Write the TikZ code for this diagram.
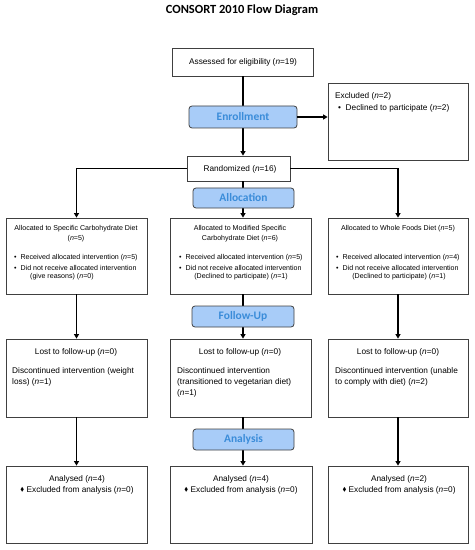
\documentclass[tikz,border=0pt]{standalone}
\usepackage{amssymb}
\usepackage{fontspec}
\setmainfont{Liberation Sans}
\newfontfamily\calib{Carlito}
\usetikzlibrary{arrows.meta,calc}
\definecolor{stagefill}{HTML}{A8CCF8}
\definecolor{stagetext}{HTML}{3A8CD9}
\definecolor{boxline}{HTML}{404040}
\newcommand{\dmd}{\raisebox{0.3bp}{\scalebox{0.7}{$\blacklozenge$}}}
\begin{document}
\begin{tikzpicture}[x=1bp,y=-1bp,
  box/.style={draw=boxline,line width=0.8bp,rectangle,inner sep=0pt,fill=white},
  stage/.style={draw=boxline,line width=0.8bp,rounded corners=3bp,fill=stagefill,inner sep=0pt,
     font=\calib\bfseries\fontsize{11.5}{13}\selectfont,text=stagetext},
  txt/.style={inner sep=0pt,font=\fontsize{8.3}{10}\selectfont},
  stxt/.style={inner sep=0pt,font=\fontsize{7.1}{8.5}\selectfont},
  conn/.style={line width=1.6bp,-{Triangle[width=5bp,length=4.5bp]}},
  plain/.style={line width=1.6bp}]
\useasboundingbox (0,0) rectangle (475,550);
\node[inner sep=0pt,font=\calib\bfseries\fontsize{12.5}{14}\selectfont] (title) at (242,10) {CONSORT 2010 Flow Diagram};
% boxes
\node[box,minimum width=141bp,minimum height=28bp] (assess) at (242.5,62) {};
\node[box,minimum width=140bp,minimum height=77bp] (excl) at (398,121.5) {};
\node[box,minimum width=103bp,minimum height=25bp] (rand) at (238.5,168.5) {};
\node[box,minimum width=141bp,minimum height=76bp] (allocL) at (76.5,256) {};
\node[box,minimum width=141bp,minimum height=76bp] (allocC) at (240.5,256) {};
\node[box,minimum width=140bp,minimum height=76bp] (allocR) at (398,256) {};
\node[box,minimum width=141bp,minimum height=78bp] (lostL) at (76.5,378) {};
\node[box,minimum width=141bp,minimum height=78bp] (lostC) at (240.5,378) {};
\node[box,minimum width=140bp,minimum height=78bp] (lostR) at (398,378) {};
\node[box,minimum width=141bp,minimum height=77bp] (anL) at (76.5,504.5) {};
\node[box,minimum width=142bp,minimum height=77bp] (anC) at (241,504.5) {};
\node[box,minimum width=140bp,minimum height=77bp] (anR) at (398,504.5) {};
% connectors
\coordinate (spine) at (243,0);
\draw[conn] (assess.south -| spine) -- (rand.north -| spine);
\draw[conn] (rand.west) -| (allocL.north);
\draw[conn] (rand.east) -| (allocR.north);
\draw[conn] (rand.south -| spine) -- (allocC.north -| spine);
\draw[conn] (allocL.south) -- (lostL.north);
\draw[conn] (allocC.south -| spine) -- (lostC.north -| spine);
\draw[conn] (allocR.south) -- (lostR.north);
\draw[conn] (lostL.south) -- (anL.north);
\draw[conn] (lostC.south -| spine) -- (anC.north -| spine);
\draw[conn] (lostR.south) -- (anR.north);
% stage boxes
\node[stage,minimum width=108bp,minimum height=22bp] (enrol) at (243,117) {Enrollment};
\draw[conn] (enrol.east) -- (enrol.east -| excl.west);
\node[stage,minimum width=101bp,minimum height=20bp] (alloc) at (243.5,198) {Allocation};
\node[stage,minimum width=102bp,minimum height=21bp] (follow) at (243,316.5) {Follow-Up};
\node[stage,minimum width=101bp,minimum height=21bp] (analysis) at (243.5,439.5) {Analysis};
% texts
\node[txt] (tAssess) at (243,62) {Assessed for eligibility (\textit{n}=19)};
\node[txt,anchor=west] (tExcl1) at (335,96) {Excluded (\textit{n}=2)};
\node[txt,anchor=west] (tExcl2) at (338,108) {\textbullet\ \ Declined to participate (\textit{n}=2)};
\node[txt] (tRand) at (240,169) {Randomized (\textit{n}=16)};
% allocated
\node[stxt] (aL1) at (76,229) {Allocated to Specific Carbohydrate Diet};
\node[stxt] (aL2) at (76,239) {(\textit{n}=5)};
\node[stxt,anchor=west] (aL3) at (14,258) {\textbullet\ \ Received allocated intervention (\textit{n}=5)};
\node[stxt,anchor=west] (aL4) at (14,268) {\textbullet\ \ Did not receive allocated intervention};
\node[stxt,anchor=west] (aL5) at (30,277) {(give reasons) (\textit{n}=0)};
\node[stxt] (aC1) at (240,229) {Allocated to Modified Specific};
\node[stxt] (aC2) at (240,239) {Carbohydrate Diet (\textit{n}=6)};
\node[stxt,anchor=west] (aC3) at (179,258) {\textbullet\ \ Received allocated intervention (\textit{n}=5)};
\node[stxt,anchor=west] (aC4) at (179,268) {\textbullet\ \ Did not receive allocated intervention};
\node[stxt] (aC5) at (241,277) {(Declined to participate) (\textit{n}=1)};
\node[stxt] (aR1) at (398,229) {Allocated to Whole Foods Diet (\textit{n}=5)};
\node[stxt,anchor=west] (aR3) at (336,258) {\textbullet\ \ Received allocated intervention (\textit{n}=4)};
\node[stxt,anchor=west] (aR4) at (336,268) {\textbullet\ \ Did not receive allocated intervention};
\node[stxt] (aR5) at (399,277) {(Declined to participate) (\textit{n}=1)};
% lost
\node[txt] (lL1) at (76,352) {Lost to follow-up (\textit{n}=0)};
\node[txt,anchor=west] (lL2) at (12,371) {Discontinued intervention (weight};
\node[txt,anchor=west] (lL3) at (12,382) {loss) (\textit{n}=1)};
\node[txt] (lC1) at (240,352) {Lost to follow-up (\textit{n}=0)};
\node[txt,anchor=west] (lC2) at (177,371) {Discontinued intervention};
\node[txt,anchor=west] (lC3) at (177,382) {(transitioned to vegetarian diet)};
\node[txt,anchor=west] (lC4) at (177,393) {(\textit{n}=1)};
\node[txt] (lR1) at (398,352) {Lost to follow-up (\textit{n}=0)};
\node[txt,anchor=west] (lR2) at (335,371) {Discontinued intervention (unable};
\node[txt,anchor=west] (lR3) at (335,382) {to comply with diet) (\textit{n}=2)};
% analysed
\node[txt] (nL1) at (77,479) {Analysed (\textit{n}=4)};
\node[txt] (nL2) at (77,490) {\dmd\ Excluded from analysis (\textit{n}=0)};
\node[txt] (nC1) at (241,479) {Analysed (\textit{n}=4)};
\node[txt] (nC2) at (241,490) {\dmd\ Excluded from analysis (\textit{n}=0)};
\node[txt] (nR1) at (399,479) {Analysed (\textit{n}=2)};
\node[txt] (nR2) at (399,490) {\dmd\ Excluded from analysis (\textit{n}=0)};
\end{tikzpicture}
\end{document}
